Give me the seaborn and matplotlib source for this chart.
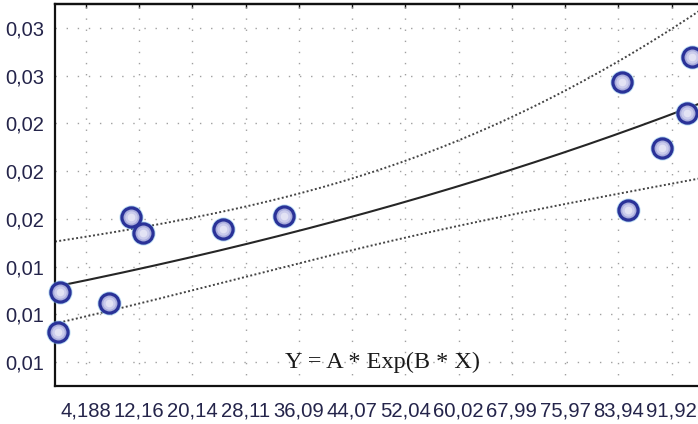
import numpy as np
import pandas as pd
import matplotlib
matplotlib.use("Agg")
import matplotlib.pyplot as plt
import seaborn as sns

# Observations
x_values = [0.0, 0.3, 7.6, 10.9, 12.7, 24.7, 33.8, 84.5, 85.4, 90.5, 94.3, 95.0]
y_values = [0.00989, 0.01240, 0.01171, 0.01712, 0.01611, 0.01636, 0.01718,
            0.02560, 0.01756, 0.02145, 0.02366, 0.02718]

# Axis ticks and their printed labels (decimal comma)
x_ticks = [4.188, 12.16, 20.14, 28.11, 36.09, 44.07, 52.04, 60.02, 67.99, 75.97, 83.94, 91.92]
x_tick_labels = ["4,188", "12,16", "20,14", "28,11", "36,09", "44,07",
                 "52,04", "60,02", "67,99", "75,97", "83,94", "91,92"]
y_ticks = [0.008, 0.011, 0.014, 0.017, 0.020, 0.023, 0.026, 0.029]
y_tick_labels = ["0,01", "0,01", "0,01", "0,02", "0,02", "0,02", "0,03", "0,03"]

equation = "Y = A * Exp(B * X)"
x_range = (-0.456, 100.0)
y_range = (0.00649, 0.03051)
t_crit = 2.764  # two-sided 98 %, n - 2 = 10 degrees of freedom

df = pd.DataFrame({"X": x_values, "Y": y_values})

# Exponential model fitted as a straight line on log(Y)
n = len(df)
log_y = np.log(df["Y"].to_numpy())
xv = df["X"].to_numpy()
B, lnA = np.polyfit(xv, log_y, 1)
resid = log_y - (lnA + B * xv)
s = np.sqrt((resid ** 2).sum() / (n - 2))
x_bar = xv.mean()
sxx = ((xv - x_bar) ** 2).sum()

xs = np.linspace(x_range[0], x_range[1], 400)
se = s * np.sqrt(1.0 / n + (xs - x_bar) ** 2 / sxx)
fit = np.exp(lnA + B * xs)
upper = fit * np.exp(t_crit * se)
lower = fit * np.exp(-t_crit * se)
curve = pd.DataFrame({"X": xs, "fit": fit, "upper": upper, "lower": lower})

sns.set_style("white")
plt.rcParams["font.family"] = ["Liberation Sans", "DejaVu Sans"]

fig = plt.figure(figsize=(6.98, 4.24), dpi=100)
ax = fig.add_axes([55 / 698, 38 / 424, 670.5 / 698, 382 / 424])

ax.grid(True, color="#a0a0a0", linestyle=(0, (1, 7)), linewidth=1.0)
ax.set_axisbelow(True)

band_style = dict(color="#444444", linewidth=1.4, linestyle=(0, (1, 1.2)))
sns.lineplot(data=curve, x="X", y="upper", ax=ax, **band_style)
sns.lineplot(data=curve, x="X", y="lower", ax=ax, **band_style)
sns.lineplot(data=curve, x="X", y="fit", ax=ax, color="#262626", linewidth=1.5)

# Markers: soft halo, dark blue rim, lavender face with a paler centre
sns.scatterplot(data=df, x="X", y="Y", ax=ax, s=300, color="#7fc0ea",
                linewidth=0, alpha=0.55, zorder=5, clip_on=False)
sns.scatterplot(data=df, x="X", y="Y", ax=ax, s=190, color="#a9acdc",
                edgecolor="#2a3298", linewidth=2.3, zorder=6, clip_on=False)
sns.scatterplot(data=df, x="X", y="Y", ax=ax, s=80, color="#cfd0ee",
                linewidth=0, alpha=0.9, zorder=7, clip_on=False)
sns.scatterplot(data=df, x="X", y="Y", ax=ax, s=30, color="#e6e6f6",
                linewidth=0, alpha=0.9, zorder=8, clip_on=False)

ax.set_xlim(*x_range)
ax.set_ylim(*y_range)
ax.set_xticks(x_ticks)
ax.set_xticklabels(x_tick_labels)
ax.set_yticks(y_ticks)
ax.set_yticklabels(y_tick_labels)
ax.set_xlabel("")
ax.set_ylabel("")

label_color = "#24244a"
ax.tick_params(axis="both", direction="out", length=6, width=1.3,
               color="#111111", labelcolor=label_color)
ax.tick_params(axis="x", pad=5, labelsize=14.6)
ax.tick_params(axis="y", pad=2, labelsize=14.5)

for side in ("left", "bottom", "top", "right"):
    ax.spines[side].set_color("#111111")
    ax.spines[side].set_linewidth(1.6)
    ax.spines[side].set_visible(True)

top = ax.secondary_xaxis("top")
top.set_xticks(x_ticks)
top.tick_params(direction="in", length=3, width=1.0, labeltop=False, color="#111111")
top.spines["top"].set_linewidth(1.6)

ax.text(0.4877, 0.0628, equation, transform=ax.transAxes, ha="center", va="center",
        fontsize=17.5, family=["Liberation Serif", "DejaVu Serif"], color="#1a1a1a",
        zorder=9)

fig.savefig("out.png", dpi=100, facecolor="white")
